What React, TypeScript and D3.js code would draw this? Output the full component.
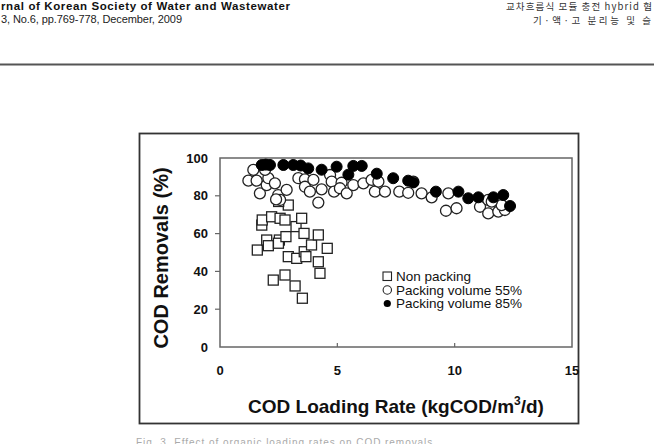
import React from "react";
import * as d3 from "d3";

const nonPackingX = [1.59, 1.78, 1.8, 1.99, 2.06, 2.2, 2.27, 2.56, 2.53, 2.49, 2.77, 2.77, 2.91, 2.81, 2.91, 3.2, 3.24, 3.27, 3.48, 3.51, 3.58, 3.59, 3.66, 3.9, 4.19, 4.19, 4.26, 4.57, 2.5];
const nonPackingY = [51.3, 64.5, 67.2, 56.6, 53.6, 68.9, 35.4, 68.1, 56.6, 54.9, 67.2, 38.1, 75.1, 58.4, 47.8, 32.3, 63.7, 46.9, 68.1, 25.8, 60.1, 50.4, 47.8, 54.0, 59.3, 45.1, 39.0, 52.2, 77.0];

const pack55X = [1.42, 1.21, 1.56, 1.7, 1.99, 2.06, 2.34, 1.92, 2.48, 2.56, 2.39, 2.84, 3.34, 3.62, 3.62, 3.83, 3.98, 4.19, 4.33, 4.69, 4.76, 4.86, 5.18, 5.11, 5.4, 5.68, 6.11, 6.46, 6.6, 6.75, 7.03, 7.64, 8.02, 8.24, 8.59, 9.02, 9.73, 9.63, 10.08, 11.08, 11.43, 11.43, 11.86, 12.14, 12.0, 11.58];
const pack55Y = [93.7, 88.0, 88.0, 81.3, 85.7, 89.3, 86.6, 93.7, 80.4, 77.8, 78.1, 83.1, 89.3, 88.7, 84.8, 82.2, 88.4, 76.4, 83.4, 91.0, 87.5, 82.2, 86.9, 84.0, 81.3, 85.7, 86.6, 88.4, 82.2, 87.5, 82.2, 82.2, 81.6, 87.5, 81.3, 79.2, 81.3, 72.1, 73.4, 74.2, 77.8, 70.7, 71.6, 72.5, 75.1, 76.9];

const pack85X = [1.78, 1.95, 2.13, 2.7, 3.12, 3.44, 3.76, 4.33, 4.97, 5.47, 5.68, 6.04, 6.68, 7.38, 8.02, 8.24, 9.2, 10.16, 10.58, 11.01, 11.65, 12.07, 12.36];
const pack85Y = [96.3, 96.5, 96.3, 96.3, 96.3, 96.0, 94.5, 93.8, 95.4, 91.2, 95.8, 95.8, 91.7, 89.3, 88.0, 87.1, 82.2, 82.2, 78.7, 79.2, 79.2, 80.4, 74.6];

const xTicks = [0, 5, 10, 15];
const yTicks = [0, 20, 40, 60, 80, 100];
const legendLabels = ["Non packing", "Packing volume 55%", "Packing volume 85%"];

const W = 654;
const H = 444;
const sans = "'Liberation Sans', Arial, sans-serif";
const kr = "'Noto Sans CJK KR', sans-serif";

export default function App() {
  const x = d3.scaleLinear().domain([0, 15]).range([220, 572]);
  const y = d3.scaleLinear().domain([0, 100]).range([347, 158]);
  const stroke = "#222";

  return (
    <svg width={W} height={H} style={{ position: "absolute", left: 0, top: 0, background: "#fff" }}>
      {/* page header */}
      <text x={1} y={10} fontFamily={sans} fontWeight="bold" fontSize={11.5} textLength={289} lengthAdjust="spacing" fill="#111">
        rnal of Korean Society of Water and Wastewater
      </text>
      <text x={1} y={23} fontFamily={sans} fontSize={11} textLength={181} lengthAdjust="spacing" fill="#222">
        3, No.6, pp.769-778, December, 2009
      </text>
      <text x={506} y={10} fontFamily={kr} fontSize={9.5} textLength={146} lengthAdjust="spacing" fill="#333">
        교차흐름식 모듈 충전 hybrid 혐
      </text>
      <text x={533} y={24} fontFamily={kr} fontSize={9.5} textLength={118} lengthAdjust="spacing" fill="#333">
        기·액·고 분리능 및 슬
      </text>
      <line x1={0} x2={W} y1={64.5} y2={64.5} stroke="#555" strokeWidth={2} />

      {/* figure frame */}
      <rect x={139.5} y={133.5} width={439} height={290} fill="none" stroke="#333" strokeWidth={1.8} />

      {/* plot box */}
      <rect x={x(0)} y={y(100)} width={x(15) - x(0)} height={y(0) - y(100)} fill="none" stroke="#666" strokeWidth={1.5} />

      {xTicks.map((t) => (
        <g key={"xt" + t}>
          {t > 0 && t < 15 && <line x1={x(t)} x2={x(t)} y1={y(0)} y2={y(0) - 4} stroke="#666" strokeWidth={1.2} />}
          <text x={x(t)} y={375} textAnchor="middle" fontFamily={sans} fontWeight="bold" fontSize={13} fill="#111">
            {t}
          </text>
        </g>
      ))}
      {yTicks.map((t) => (
        <g key={"yt" + t}>
          {t > 0 && t < 100 && <line x1={x(0) - 5} x2={x(0)} y1={y(t)} y2={y(t)} stroke="#666" strokeWidth={1.2} />}
          <text x={208} y={y(t) + 4.5} textAnchor="end" fontFamily={sans} fontWeight="bold" fontSize={13} fill="#111">
            {t}
          </text>
        </g>
      ))}

      {/* axis titles */}
      <text transform="translate(168,258) rotate(-90)" textAnchor="middle" fontFamily={sans} fontWeight="bold" fontSize={20} fill="#111">
        COD Removals (%)
      </text>
      <text x={396} y={413} textAnchor="middle" fontFamily={sans} fontWeight="bold" fontSize={19} fill="#111">
        COD Loading Rate (kgCOD/m<tspan dy={-8} fontSize={12}>3</tspan><tspan dy={8}>/d)</tspan>
      </text>

      {/* data */}
      {nonPackingX.map((v, i) => (
        <rect key={"s" + i} x={x(v) - 5} y={y(nonPackingY[i]) - 5} width={10} height={10} fill="#fff" stroke={stroke} strokeWidth={1.3} />
      ))}
      {pack55X.map((v, i) => (
        <circle key={"o" + i} cx={x(v)} cy={y(pack55Y[i])} r={5.5} fill="#fff" stroke={stroke} strokeWidth={1.3} />
      ))}
      {pack85X.map((v, i) => (
        <circle key={"f" + i} cx={x(v)} cy={y(pack85Y[i])} r={5.5} fill="#000" stroke="#000" strokeWidth={1} />
      ))}

      {/* legend */}
      <rect x={383} y={272} width={8.5} height={8.5} fill="#fff" stroke={stroke} strokeWidth={1.1} />
      <circle cx={387.3} cy={290} r={4.2} fill="#fff" stroke={stroke} strokeWidth={1.1} />
      <circle cx={387.3} cy={303.5} r={3.6} fill="#000" />
      {legendLabels.map((l, i) => (
        <text key={l} x={396} y={281 + i * 13.5} fontFamily={sans} fontSize={13.5} fill="#111">
          {l}
        </text>
      ))}

      {/* caption (cut off by page) */}
      <text x={136} y={446} fontFamily={sans} fontSize={10} textLength={300} lengthAdjust="spacing" fill="#aaa">
        Fig. 3. Effect of organic loading rates on COD removals.
      </text>
    </svg>
  );
}
